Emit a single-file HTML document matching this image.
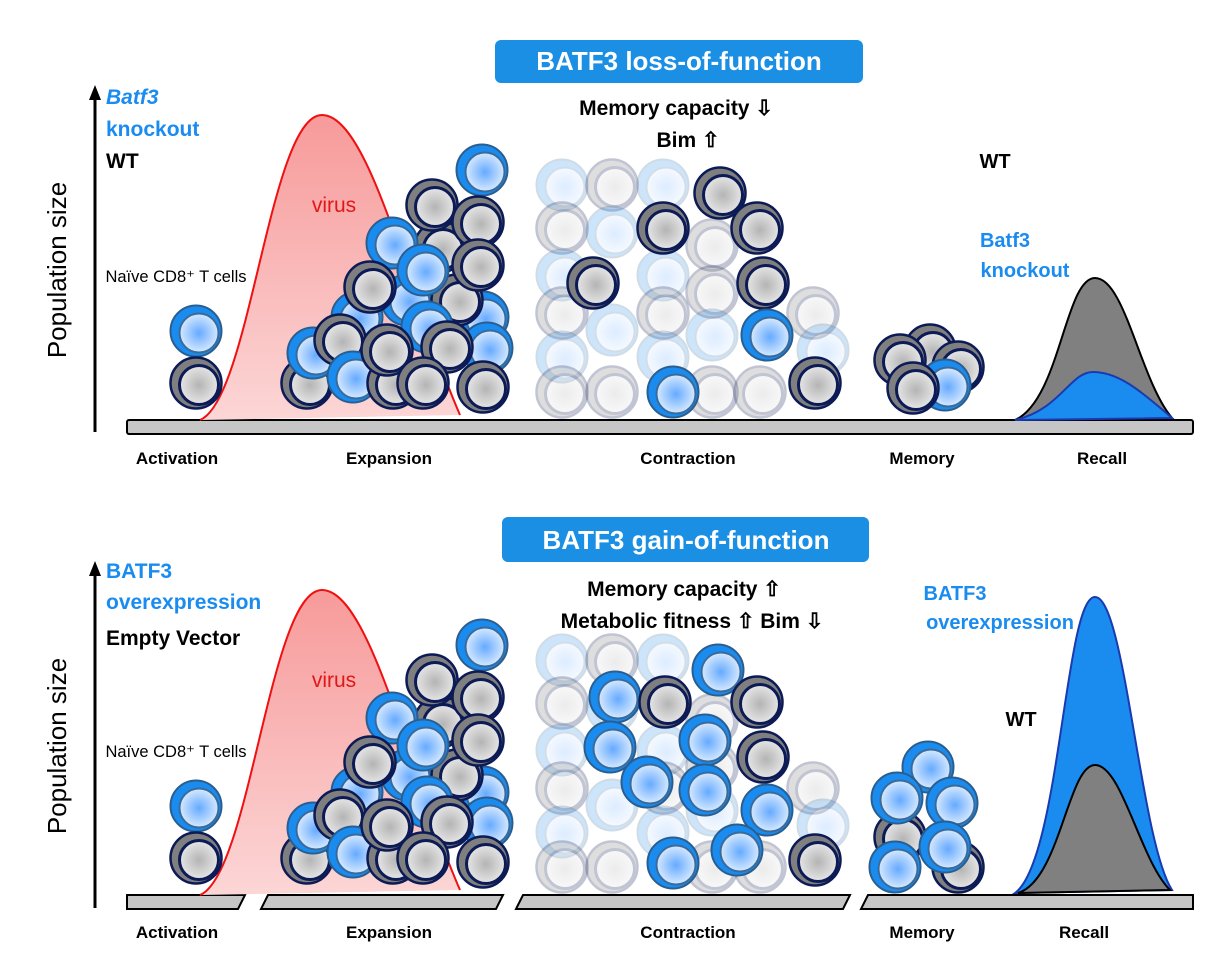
<!DOCTYPE html>
<html><head><meta charset="utf-8"><style>
html,body{margin:0;padding:0;background:#fff}
svg{display:block}
text{font-family:"Liberation Sans",sans-serif}
.b{font-weight:bold}
</style></head><body>
<svg width="1208" height="960" viewBox="0 0 1208 960" xmlns="http://www.w3.org/2000/svg" xmlns:xlink="http://www.w3.org/1999/xlink">
<defs>
<radialGradient id="gg"><stop offset="0" stop-color="#b4b4b4"/><stop offset="1" stop-color="#e6e6e6"/></radialGradient>
<radialGradient id="bg"><stop offset="0" stop-color="#66aaff"/><stop offset="1" stop-color="#d6e9ff"/></radialGradient>
<linearGradient id="vg" x1="0" y1="0" x2="0" y2="1"><stop offset="0" stop-color="#f79a9a"/><stop offset="1" stop-color="#fcd6d6"/></linearGradient>
<g id="G"><circle r="25.5" fill="#7f7f7f" stroke="#0c1a55" stroke-width="2.5"/><circle cx="3" cy="2" r="19.5" fill="url(#gg)" stroke="#0c1a55" stroke-width="3"/></g>
<g id="B"><circle r="25.5" fill="#1a8cf0" stroke="#2b5e8e" stroke-width="2"/><circle cx="3" cy="2" r="19.5" fill="url(#bg)" stroke="#3a6a99" stroke-width="2"/></g>
<g id="FG" opacity="0.25"><use xlink:href="#G"/></g>
<g id="FB" opacity="0.22"><use xlink:href="#B"/></g>
<g id="exp">
<path d="M200,420 C250,400 270,115 322,115 C370,115 410,300 460,415 Z" fill="url(#vg)"/>
<path d="M200,420 C250,400 270,115 322,115 C370,115 410,300 460,415" fill="none" stroke="#f01010" stroke-width="2"/>
<text x="334" y="212" font-size="21" fill="#e01818" text-anchor="middle">virus</text>
<use xlink:href="#B" x="482" y="170"/>
<use xlink:href="#G" x="440" y="247"/>
<use xlink:href="#G" x="432" y="205"/>
<use xlink:href="#G" x="478" y="222"/>
<use xlink:href="#B" x="357" y="317"/>
<use xlink:href="#B" x="392" y="243"/>
<use xlink:href="#B" x="407" y="300"/>
<use xlink:href="#B" x="483" y="317"/>
<use xlink:href="#G" x="457" y="300"/>
<use xlink:href="#G" x="478" y="265"/>
<use xlink:href="#B" x="423" y="270"/>
<use xlink:href="#G" x="370" y="287"/>
<use xlink:href="#B" x="427" y="327"/>
<use xlink:href="#B" x="487" y="348"/>
<use xlink:href="#G" x="307" y="383"/>
<use xlink:href="#B" x="313" y="353"/>
<use xlink:href="#G" x="340" y="340"/>
<use xlink:href="#B" x="353" y="377"/>
<use xlink:href="#G" x="393" y="383"/>
<use xlink:href="#G" x="387" y="350"/>
<use xlink:href="#G" x="447" y="347"/>
<use xlink:href="#G" x="423" y="383"/>
<use xlink:href="#G" x="483" y="387"/>
<use xlink:href="#B" x="196" y="331"/>
<use xlink:href="#G" x="196" y="383"/>
<text x="176" y="282" font-size="16.5" text-anchor="middle">Naïve CD8⁺ T cells</text>
</g>
<g id="faded">
<use xlink:href="#FB" x="562" y="185"/><use xlink:href="#FG" x="612" y="185"/><use xlink:href="#FB" x="663" y="185"/>
<use xlink:href="#FG" x="562" y="228"/><use xlink:href="#FB" x="612" y="232"/><use xlink:href="#FG" x="712" y="245"/>
<use xlink:href="#FB" x="562" y="275"/><use xlink:href="#FB" x="663" y="275"/><use xlink:href="#FG" x="712" y="292"/>
<use xlink:href="#FG" x="562" y="313"/><use xlink:href="#FB" x="612" y="330"/><use xlink:href="#FG" x="663" y="313"/><use xlink:href="#FB" x="712" y="335"/><use xlink:href="#FG" x="813" y="313"/>
<use xlink:href="#FB" x="562" y="357"/><use xlink:href="#FB" x="663" y="357"/><use xlink:href="#FB" x="823" y="350"/>
<use xlink:href="#FG" x="562" y="392"/><use xlink:href="#FG" x="612" y="392"/><use xlink:href="#FG" x="712" y="392"/><use xlink:href="#FG" x="760" y="392"/>
</g>
<g id="axis">
<line x1="95" y1="432" x2="95" y2="98" stroke="#000" stroke-width="3"/>
<polygon points="89,100 101,100 95,85" fill="#000"/>
<text transform="translate(66,270) rotate(-90)" font-size="26" text-anchor="middle">Population size</text>
</g>
</defs>

<!-- TOP PANEL -->
<rect x="495" y="40" width="368" height="43" rx="6" fill="#1a8fe3"/>
<text x="679" y="70" font-size="26" fill="#fff" text-anchor="middle" class="b">BATF3 loss-of-function</text>
<use xlink:href="#axis"/>
<text x="106" y="104" font-size="21" fill="#1a8cf0" class="b" font-style="italic">Batf3</text>
<text x="106" y="136" font-size="21" fill="#1a8cf0" class="b">knockout</text>
<text x="106" y="168" font-size="21" class="b">WT</text>
<rect x="127" y="420" width="1066" height="14" rx="2" fill="#c6c6c6" stroke="#000" stroke-width="2"/>
<use xlink:href="#exp"/>
<use xlink:href="#faded"/>
<use xlink:href="#G" x="720" y="193"/><use xlink:href="#G" x="663" y="228"/><use xlink:href="#G" x="757" y="228"/>
<use xlink:href="#G" x="593" y="283"/><use xlink:href="#G" x="763" y="283"/><use xlink:href="#B" x="767" y="335"/>
<use xlink:href="#B" x="673" y="392"/><use xlink:href="#G" x="815" y="383"/>
<text x="676" y="115" font-size="21" class="b" text-anchor="middle">Memory capacity ⇩</text>
<text x="688" y="147" font-size="21" class="b" text-anchor="middle">Bim ⇧</text>
<use xlink:href="#G" x="930" y="350"/><use xlink:href="#G" x="900" y="360"/><use xlink:href="#G" x="958" y="367"/>
<use xlink:href="#B" x="945" y="385"/><use xlink:href="#G" x="913" y="388"/>
<text x="995" y="168" font-size="20" class="b" text-anchor="middle">WT</text>
<text x="1005" y="247" font-size="20" fill="#1a8cf0" class="b" text-anchor="middle">Batf3</text>
<text x="1025" y="277" font-size="20" fill="#1a8cf0" class="b" text-anchor="middle">knockout</text>
<path d="M1015,420 C1060,400 1065,278 1095,278 C1125,278 1140,380 1172,418 Z" fill="#808080" stroke="#000" stroke-width="2"/>
<path d="M1015,420 C1060,410 1070,372 1093,372 C1118,372 1140,390 1172,418 Z" fill="#1a8cf0" stroke="#1a3ab0" stroke-width="2"/>
<g font-size="17" class="b" text-anchor="middle">
<text x="177" y="464">Activation</text><text x="389" y="464">Expansion</text><text x="688" y="464">Contraction</text><text x="922" y="464">Memory</text><text x="1102" y="464">Recall</text>
</g>

<!-- BOTTOM PANEL -->
<rect x="502" y="517" width="367" height="45" rx="6" fill="#1a8fe3"/>
<text x="686" y="549" font-size="26" fill="#fff" text-anchor="middle" class="b">BATF3 gain-of-function</text>
<use xlink:href="#axis" y="476"/>
<text x="106" y="578" font-size="21" fill="#1a8cf0" class="b">BATF3</text>
<text x="106" y="609" font-size="21" fill="#1a8cf0" class="b">overexpression</text>
<text x="106" y="645" font-size="21" class="b">Empty Vector</text>
<g fill="#c6c6c6" stroke="#000" stroke-width="2">
<polygon points="127,895 245,895 238,909 127,909"/>
<polygon points="268,895 503,895 496,909 261,909"/>
<polygon points="523,895 850,895 843,909 516,909"/>
<polygon points="868,895 1193,895 1193,909 861,909"/>
</g>
<use xlink:href="#exp" y="475"/>
<use xlink:href="#faded" y="475"/>
<use xlink:href="#B" x="718" y="670"/><use xlink:href="#B" x="615" y="697"/><use xlink:href="#G" x="665" y="702"/><use xlink:href="#G" x="757" y="702"/>
<use xlink:href="#B" x="705" y="740"/><use xlink:href="#B" x="610" y="747"/><use xlink:href="#G" x="763" y="757"/>
<use xlink:href="#B" x="647" y="782"/><use xlink:href="#B" x="705" y="790"/><use xlink:href="#B" x="767" y="810"/>
<use xlink:href="#B" x="737" y="850"/><use xlink:href="#B" x="673" y="863"/><use xlink:href="#G" x="815" y="860"/>
<text x="684" y="596" font-size="21" class="b" text-anchor="middle">Memory capacity ⇧</text>
<text x="692" y="628" font-size="21" class="b" text-anchor="middle">Metabolic fitness ⇧ Bim ⇩</text>
<use xlink:href="#G" x="958" y="867"/><use xlink:href="#G" x="900" y="837"/>
<use xlink:href="#B" x="928" y="767"/><use xlink:href="#B" x="897" y="798"/><use xlink:href="#B" x="952" y="803"/>
<use xlink:href="#B" x="945" y="847"/><use xlink:href="#B" x="895" y="867"/>
<text x="955" y="600" font-size="20" fill="#1a8cf0" class="b" text-anchor="middle">BATF3</text>
<text x="1000" y="629" font-size="20" fill="#1a8cf0" class="b" text-anchor="middle">overexpression</text>
<text x="1021" y="726" font-size="20" class="b" text-anchor="middle">WT</text>
<path d="M1015,893 C1060,860 1065,597 1095,597 C1125,597 1140,840 1172,890 Z" fill="#1a8cf0" stroke="#1a3ab0" stroke-width="2"/>
<path d="M1018,893 C1060,880 1068,765 1095,765 C1122,765 1140,860 1170,890 Z" fill="#808080" stroke="#000" stroke-width="2"/>
<g font-size="17" class="b" text-anchor="middle">
<text x="177" y="938">Activation</text><text x="389" y="938">Expansion</text><text x="688" y="938">Contraction</text><text x="922" y="938">Memory</text><text x="1084" y="938">Recall</text>
</g>
</svg>
</body></html>
